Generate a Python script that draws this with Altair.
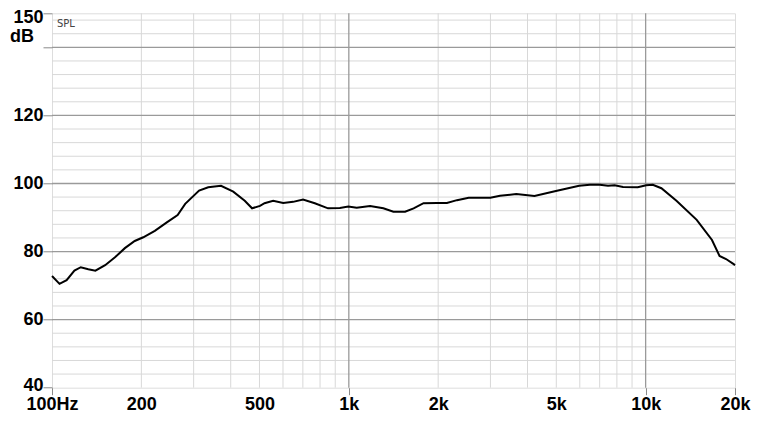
import altair as alt
import pandas as pd

# Frequency response
freq_hz = [100, 106, 112, 119, 125, 132.5, 140, 151, 163, 176, 190, 203, 222, 243,
           265, 281, 313, 336, 371, 408, 446, 472, 502, 520, 556, 601, 649, 701,
           768, 851, 933, 996, 1063, 1179, 1307, 1413, 1547, 1653, 1785, 1980,
           2140, 2314, 2534, 2769, 2998, 3231, 3666, 4222, 4985, 5970, 6490, 7007,
           7470, 7863, 8390, 9408, 10040, 10570, 11300, 12700, 14860, 16730,
           17740, 18660, 19800, 20000]
spl_db = [72.8, 70.5, 71.6, 74.4, 75.4, 74.8, 74.4, 76.0, 78.3, 81.0, 83.1, 84.2,
          86.1, 88.5, 90.7, 94.0, 97.9, 98.9, 99.3, 97.6, 94.9, 92.7, 93.4, 94.2,
          94.9, 94.3, 94.6, 95.3, 94.2, 92.7, 92.8, 93.2, 92.9, 93.4, 92.7, 91.7,
          91.7, 92.7, 94.2, 94.3, 94.3, 95.1, 95.8, 95.8, 95.8, 96.4, 96.9, 96.3,
          97.8, 99.3, 99.6, 99.6, 99.3, 99.5, 99.0, 98.9, 99.5, 99.6, 98.6, 94.9,
          89.3, 83.4, 78.7, 77.8, 76.3, 76.0]

x_tick_values = [100, 200, 500, 1000, 2000, 5000, 10000, 20000]
x_tick_labels = ["100Hz", "200", "500", "1k", "2k", "5k", "10k", "20k"]
x_major_grid = [1000, 10000]
x_minor_grid = [200, 300, 400, 500, 600, 700, 800, 900,
                2000, 3000, 4000, 5000, 6000, 7000, 8000, 9000]
y_tick_values = [40, 60, 80, 100, 120, 140, 150]
y_major_grid = [60, 80, 100, 120, 140]
y_minor_grid = [44, 48, 52, 56, 64, 68, 72, 76, 84, 88, 92, 96,
                104, 108, 112, 116, 124, 128, 132, 136, 144, 148]

curve = pd.DataFrame({"f": freq_hz, "db": spl_db})

x_scale = alt.Scale(type="log", domain=[100, 20000], nice=False)
y_scale = alt.Scale(domain=[40, 150], nice=False, zero=False)

label_map = "{" + ",".join(f"'{v}':'{l}'" for v, l in zip(x_tick_values, x_tick_labels)) + "}"

FONT = "Liberation Sans"

x_axis = alt.Axis(
    values=x_tick_values,
    labelExpr=f"{label_map}[''+datum.value]",
    grid=False,
    domain=False,
    tickSize=7,
    tickColor="#8a8a8a",
    tickOpacity={"condition": {"test": "indexof([100,1000,10000,20000], datum.value) >= 0", "value": 1}, "value": 0},
    labelFont=FONT,
    labelFontSize=18,
    labelFontWeight="bold",
    labelColor="#000000",
    labelPadding=1,
    labelFlush=False,
    labelOverlap=False,
    title=None,
)

y_axis = alt.Axis(
    values=y_tick_values,
    labelExpr="datum.value == 140 ? '' : datum.value",
    grid=False,
    domain=False,
    tickSize=9,
    tickColor="#8a8a8a",
    labelFont=FONT,
    labelFontSize=18,
    labelFontWeight="bold",
    labelColor="#000000",
    labelPadding=0,
    labelOffset={"condition": [
        {"test": "datum.value == 150", "value": 4.5},
        {"test": "datum.value == 40", "value": -2},
    ], "value": 0},
    labelFlush=False,
    labelOverlap=False,
    title="dB",
    titleAngle=0,
    titleFont=FONT,
    titleFontSize=18,
    titleFontWeight="bold",
    titleColor="#000000",
    titleAlign="center",
    titleBaseline="alphabetic",
    titleX=-30.5,
    titleY=28,
)

# the same axes are given to every layer so none are dropped
line = alt.Chart(curve).mark_line(color="#000000", strokeWidth=2).encode(
    x=alt.X("f:Q", scale=x_scale, axis=x_axis),
    y=alt.Y("db:Q", scale=y_scale, axis=y_axis),
)

vminor = alt.Chart(pd.DataFrame({"f": x_minor_grid})).mark_rule(
    color="#d8d8d8", strokeWidth=1
).encode(x=alt.X("f:Q", scale=x_scale, axis=x_axis))

vmajor = alt.Chart(pd.DataFrame({"f": x_major_grid})).mark_rule(
    color="#9a9a9a", strokeWidth=1.3
).encode(x=alt.X("f:Q", scale=x_scale, axis=x_axis))

hminor = alt.Chart(pd.DataFrame({"db": y_minor_grid})).mark_rule(
    color="#d8d8d8", strokeWidth=1
).encode(y=alt.Y("db:Q", scale=y_scale, axis=y_axis))

hmajor = alt.Chart(pd.DataFrame({"db": y_major_grid})).mark_rule(
    color="#9a9a9a", strokeWidth=1.3
).encode(y=alt.Y("db:Q", scale=y_scale, axis=y_axis))

spl_label = alt.Chart(pd.DataFrame({"t": ["SPL"]})).mark_text(
    font="DejaVu Sans", fontSize=10, color="#444444", align="left", baseline="alphabetic"
).encode(x=alt.value(5), y=alt.value(14), text="t:N")

chart = alt.layer(vminor, hminor, vmajor, hmajor, line, spl_label).properties(
    width=683,
    height=374.4,
    autosize=alt.AutoSizeParams(type="none"),
    padding={"left": 44, "top": 5.3, "right": 27, "bottom": 37},
).configure_view(
    stroke="#8a8a8a", strokeWidth=1.5
).configure(background="#ffffff")

chart.save("out.html", embed_options={"renderer": "svg", "actions": False})
